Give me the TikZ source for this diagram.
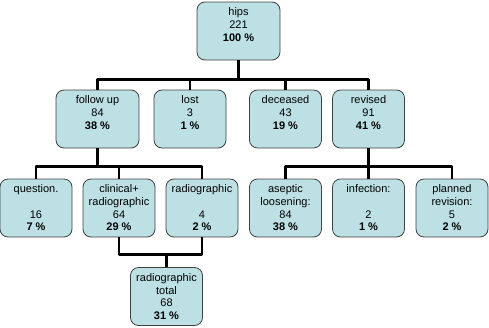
\documentclass[tikz,border=0pt]{standalone}
\usepackage{fontspec}
\setmainfont{Liberation Sans}
\definecolor{boxfill}{RGB}{188,224,228}

\begin{document}
\begin{tikzpicture}[x=1pt,y=1pt,line join=round,
    box/.style={draw=black!75,line width=.8pt,fill=boxfill,rounded corners=8pt,
      minimum width=72pt,minimum height=58pt,align=center,
      font=\fontsize{11}{12.7}\selectfont},
    wide/.style={minimum width=83pt},
    link/.style={line width=2.6pt}]
  \useasboundingbox (0,0) rectangle (489,-327);
  \node[box,wide] (hips) at (238.5,-31) {hips\\221\\\textbf{100 \%}\\\mbox{}};
  \node[box,wide] (followup) at (97.5,-119) {follow up\\84\\\textbf{38 \%}\\\mbox{}};
  \node[box] (lost) at (190,-119) {lost\\3\\\textbf{1 \%}\\\mbox{}};
  \node[box] (deceased) at (285.5,-119) {deceased\\43\\\textbf{19 \%}\\\mbox{}};
  \node[box] (revised) at (368.5,-119) {revised\\91\\\textbf{41 \%}\\\mbox{}};
  \node[box] (question) at (36,-208) {question.\\\mbox{}\\16\\\textbf{7 \%}};
  \node[box] (clinrad) at (119,-208) {clinical+\\radiographic\\64\\\textbf{29 \%}};
  \node[box] (radio) at (202,-208) {radiographic\\\mbox{}\\4\\\textbf{2 \%}};
  \node[box] (aseptic) at (285.5,-208) {aseptic\\loosening:\\84\\\textbf{38 \%}};
  \node[box] (infection) at (368.5,-208) {infection:\\\mbox{}\\2\\\textbf{1 \%}};
  \node[box] (planned) at (452,-208) {planned\\revision:\\5\\\textbf{2 \%}};
  \node[box] (radtotal) at (166.5,-296.5) {radiographic\\total\\68\\\textbf{31 \%}};
  % tree lines
  \foreach \c in {followup,lost,deceased,revised}
    \draw[link] (hips.south) -- ++(0,-19) -| (\c.north);
  \foreach \c in {question,clinrad,radio}
    \draw[link] (followup.south) -- ++(0,-18) -| (\c.north);
  \foreach \c in {aseptic,infection,planned}
    \draw[link] (revised.south) -- ++(0,-18) -| (\c.north);
  \draw[link] (clinrad.south) -- ++(0,-17) -| (radio.south);
  \draw[link] (radtotal.north) -- ++(0,12);
\end{tikzpicture}
\end{document}
